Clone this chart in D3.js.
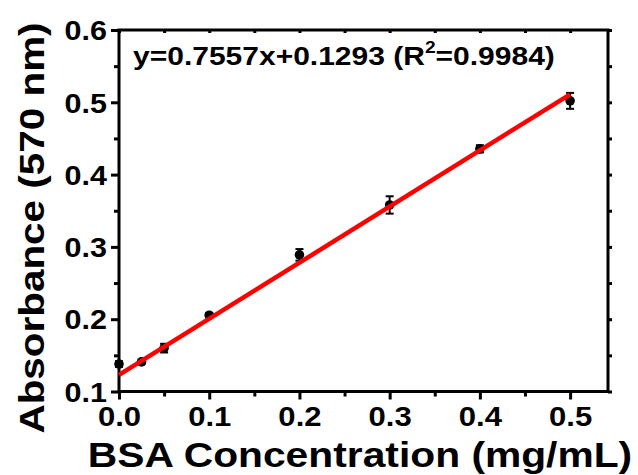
<!DOCTYPE html>
<html><head><meta charset="utf-8">
<script src="https://cdn.jsdelivr.net/npm/d3@7"></script>
<style>body{margin:0;background:#fff}svg{display:block}text{font-family:"Liberation Sans",Arial,sans-serif;font-weight:bold;fill:#000}</style>
</head><body><svg id="c" width="638" height="475"></svg>
<script>
const concentrations = [0, 0.025, 0.05, 0.1, 0.2, 0.3, 0.4, 0.5];
const absorbance = [0.138, 0.141, 0.160, 0.2055, 0.289, 0.358, 0.4356, 0.502];
const errors = [0.004, 0.003, 0.006, 0.003, 0.008, 0.012, 0.005, 0.011];
const fitX = [0, 0.5];
const fitY = [0.123, 0.511];
const xTicks = [0, 0.1, 0.2, 0.3, 0.4, 0.5];
const yTicks = [0.1, 0.2, 0.3, 0.4, 0.5, 0.6];
const xMinor = [0.05, 0.15, 0.25, 0.35, 0.45];
const yMinor = [0.15, 0.25, 0.35, 0.45, 0.55];
const xTitle = "BSA Concentration (mg/mL)";
const yTitle = "Absorbance (570 nm)";

const svg = d3.select("#c");
const L = 119, R = 608, T = 30, B = 391.5;
const x = d3.scaleLinear().domain([0, 0.542]).range([L, R]);
const y = d3.scaleLinear().domain([0.1, 0.6]).range([B, T]);

function stretch(sel, k) {
  sel.each(function() {
    const w = this.getComputedTextLength();
    d3.select(this).attr("textLength", w * k).attr("lengthAdjust", "spacingAndGlyphs");
  });
}

// axes
const gx = svg.append("g").attr("transform", `translate(0,${B})`)
  .call(d3.axisBottom(x).tickValues(xTicks).tickFormat(d3.format(".1f")).tickSize(8).tickPadding(7));
const gxm = svg.append("g").attr("transform", `translate(0,${B})`)
  .call(d3.axisBottom(x).tickValues(xMinor).tickFormat("").tickSize(5));
const gy = svg.append("g").attr("transform", `translate(${L},0)`)
  .call(d3.axisLeft(y).tickValues(yTicks).tickFormat(d3.format(".1f")).tickSize(8).tickPadding(4));
const gym = svg.append("g").attr("transform", `translate(${L},0)`)
  .call(d3.axisLeft(y).tickValues(yMinor).tickFormat("").tickSize(5));
const gt = svg.append("g").attr("transform", `translate(0,${T})`)
  .call(d3.axisBottom(x).tickValues(xTicks.concat(xMinor)).tickFormat("").tickSize(3));
const gr = svg.append("g").attr("transform", `translate(${R},0)`)
  .call(d3.axisRight(y).tickValues(yTicks.concat(yMinor)).tickFormat("").tickSize(4));
[gx, gxm, gy, gym, gt, gr].forEach(g => {
  g.select(".domain").remove();
  g.selectAll(".tick line").attr("stroke", "#000").attr("stroke-width", 3);
  g.selectAll(".tick text").style("font-size", "27px").attr("font-weight", "bold").attr("fill", "#000")
    .style("font-family", '"Liberation Sans",Arial,sans-serif');
});
gy.selectAll(".tick text").attr("dy", "0.36em");
stretch(gx.selectAll(".tick text"), 1.15);
stretch(gy.selectAll(".tick text"), 1.13);

svg.append("rect").attr("x", L).attr("y", T).attr("width", R - L).attr("height", B - T)
  .attr("fill", "none").attr("stroke", "#000").attr("stroke-width", 3);

// error bars
const eb = svg.append("g").attr("stroke", "#000").attr("stroke-width", 2);
concentrations.forEach((c, i) => {
  const cx = x(c), y1 = y(absorbance[i] + errors[i]), y2 = y(absorbance[i] - errors[i]);
  eb.append("line").attr("x1", cx).attr("x2", cx).attr("y1", y1).attr("y2", y2);
  eb.append("line").attr("x1", cx - 4).attr("x2", cx + 4).attr("y1", y1).attr("y2", y1);
  eb.append("line").attr("x1", cx - 4).attr("x2", cx + 4).attr("y1", y2).attr("y2", y2);
});
// points
svg.append("g").selectAll("circle").data(concentrations).join("circle")
  .attr("cx", d => x(d)).attr("cy", (d, i) => y(absorbance[i])).attr("r", 4.8).attr("fill", "#000");

// fit line
svg.append("path").datum(fitX.map((v, i) => [v, fitY[i]]))
  .attr("d", d3.line().x(d => x(d[0])).y(d => y(d[1])))
  .attr("stroke", "#ff0000").attr("stroke-width", 4.5).attr("fill", "none");

// equation
const eqG = svg.append("g").attr("transform", "translate(133,65) scale(1.2,1)");
const eq = eqG.append("text").attr("x", 0).attr("y", 0).style("font-size", "25px");
eq.append("tspan").text("y=0.7557x+0.1293 (R");
eq.append("tspan").text("2").style("font-size", "16px").attr("dy", -12);
eq.append("tspan").text("=0.9984)").attr("dy", 12);

// titles
const xt = svg.append("text").attr("x", 360).attr("y", 467).attr("text-anchor", "middle").style("font-size", "35px").text(xTitle);
stretch(xt, 1.165);
const yt = svg.append("text").attr("transform", "translate(44,228) rotate(-90)").attr("text-anchor", "middle").style("font-size", "35px").text(yTitle);
stretch(yt, 1.155);
</script></body></html>
